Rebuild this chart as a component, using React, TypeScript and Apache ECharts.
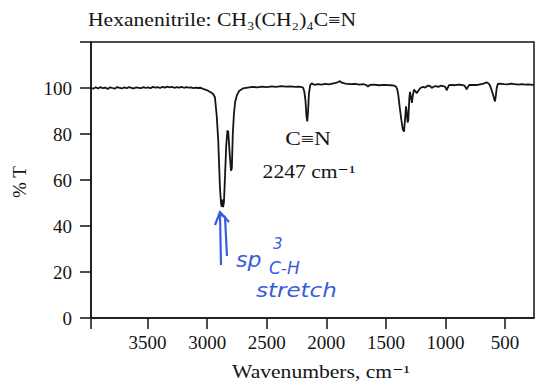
import React, { useEffect, useRef } from "react";
import * as echarts from "echarts";

// Wavenumbers (cm^-1) and transmittance (%T)
const wavenumbers = [
  3975, 3955, 3935, 3915, 3895, 3875, 3855, 3835, 3815, 3795, 3775, 3755, 3735, 3715, 3695, 3675,
  3655, 3635, 3615, 3595, 3575, 3555, 3535, 3515, 3495, 3475, 3455, 3435, 3415, 3395, 3375, 3355,
  3335, 3315, 3295, 3275, 3255, 3235, 3215, 3195, 3175, 3155, 3135, 3115, 3095, 3075, 3055, 3035,
  3015, 3000, 2985, 2965, 2950, 2935, 2920, 2907, 2893, 2884, 2878, 2872, 2866, 2859, 2850, 2840,
  2830, 2823, 2812, 2800, 2793, 2785, 2775, 2765, 2750, 2730, 2700, 2660, 2620, 2580, 2540, 2500,
  2460, 2420, 2380, 2340, 2300, 2260, 2230, 2205, 2194, 2185, 2175, 2167, 2160, 2153, 2146, 2135,
  2123, 2100, 2070, 2040, 2010, 1980, 1950, 1920, 1900, 1885, 1870, 1840, 1800, 1760, 1720, 1690,
  1665, 1650, 1635, 1600, 1560, 1520, 1490, 1457, 1430, 1415, 1405, 1396, 1385, 1370, 1358, 1348,
  1340, 1331, 1326, 1318, 1312, 1304, 1298, 1290, 1282, 1275, 1264, 1252, 1240, 1225, 1210, 1190,
  1170, 1150, 1130, 1115, 1100, 1080, 1060, 1040, 1020, 1004, 995, 990, 982, 970, 950, 920,
  890, 860, 840, 828, 822, 815, 800, 770, 740, 710, 680, 660, 645, 630, 615, 600,
  590, 584, 578, 570, 560, 540, 510, 480, 450, 420, 390, 360, 330, 300, 275, 257,
];
const transmittance = [
  100.0, 99.7, 100.3, 99.8, 100.4, 99.9, 100.2, 99.6, 100.3, 100.0, 99.7, 100.4, 100.1, 99.8, 100.3, 99.9,
  100.4, 100.0, 99.8, 100.3, 100.1, 99.9, 100.4, 100.0, 100.3, 99.9, 100.5, 100.2, 100.4, 100.0, 100.5, 100.2,
  100.6, 100.3, 100.5, 100.1, 100.4, 100.2, 100.5, 100.1, 100.4, 100.2, 100.3, 99.9, 100.2, 100.0, 100.1, 99.6,
  99.3, 99.0, 98.6, 98.0, 97.4, 96.0, 88.0, 77.0, 57.0, 50.0, 48.3, 51.5, 48.2, 50.5, 62.0, 75.0,
  81.5, 81.0, 72.0, 64.0, 65.0, 80.0, 89.0, 94.0, 97.0, 98.8, 99.8, 100.2, 100.5, 100.3, 100.6, 100.4,
  100.7, 100.5, 100.8, 100.6, 100.7, 100.5, 100.6, 100.4, 100.0, 98.5, 94.5, 88.0, 85.5, 90.0, 97.5, 101.3,
  102.0, 101.4, 101.7, 101.5, 101.8, 101.6, 101.9, 102.2, 102.6, 103.0, 102.3, 101.9, 101.7, 101.8, 101.5, 101.7,
  101.3, 100.6, 101.3, 101.5, 101.2, 101.4, 101.3, 101.2, 101.0, 100.6, 99.5, 97.0, 92.0, 86.0, 82.0, 81.0,
  86.0, 92.0, 90.0, 85.0, 86.0, 95.0, 98.3, 96.0, 93.5, 96.5, 99.3, 98.5, 97.8, 99.0, 100.0, 100.5,
  100.2, 101.0, 100.9, 100.0, 100.6, 100.8, 100.5, 101.0, 100.8, 100.6, 99.8, 99.0, 100.0, 101.2, 101.4, 101.2,
  101.5, 101.3, 101.0, 100.0, 99.4, 100.2, 101.3, 101.4, 101.3, 101.6, 101.9, 102.4, 102.2, 101.5, 99.5, 97.0,
  95.0, 94.2, 96.5, 100.0, 101.8, 101.9, 101.7, 101.6, 101.9, 101.7, 101.5, 101.7, 101.5, 101.6, 101.4, 101.5,
];

const xTickValues = [3500, 3000, 2500, 2000, 1500, 1000, 500];
const yTickValues = [0, 20, 40, 60, 80, 100];

const titleText = "Hexanenitrile: CH\u2083(CH\u2082)\u2084C\u2261N";
const xName = "Wavenumbers, cm\u207B\u00B9";
const yName = "% T";
const peakLabel = "C\u2261N";
const peakValue = "2247 cm\u207B\u00B9";

const SERIF = '"Liberation Serif", "DejaVu Serif", serif';
const INK = "#151515";
const BLUE = "#3a5ce0";

export default function App() {
  const ref = useRef<HTMLDivElement>(null);

  useEffect(() => {
    if (!ref.current) return;
    const chart = echarts.init(ref.current, undefined, { renderer: "svg" });
    const data = wavenumbers.map((w, i) => [w, transmittance[i]]);
    const xMin = 257;
    const xMax = 3975;

    chart.setOption({
      animation: false,
      backgroundColor: "#ffffff",
      grid: {
        left: 91,
        top: 42,
        width: 443,
        height: 276,
        show: true,
        borderColor: INK,
        borderWidth: 1.5,
        backgroundColor: "transparent",
      },
      xAxis: {
        type: "value",
        min: xMin,
        max: xMax,
        inverse: true,
        splitLine: { show: false },
        axisLine: { show: true, lineStyle: { color: INK, width: 1.5 } },
        axisTick: {
          show: true,
          length: 11,
          customValues: [xMax, ...xTickValues],
          lineStyle: { color: INK, width: 1.5 },
        },
        axisLabel: {
          customValues: xTickValues,
          formatter: (v: number) => String(v),
          margin: 15,
          fontFamily: SERIF,
          fontSize: 19,
          color: INK,
        },
      },
      yAxis: {
        type: "value",
        min: 0,
        max: 120,
        interval: 20,
        splitLine: { show: false },
        axisLine: { show: true, lineStyle: { color: INK, width: 1.5 } },
        axisTick: { show: true, length: 11, lineStyle: { color: INK, width: 1.5 } },
        axisLabel: {
          customValues: yTickValues,
          formatter: (v: number) => String(v),
          margin: 19,
          fontFamily: SERIF,
          fontSize: 19,
          color: INK,
        },
      },
      series: [
        {
          type: "line",
          data,
          showSymbol: false,
          symbol: "none",
          lineStyle: { color: INK, width: 1.8 },
          z: 3,
        },
      ],
      graphic: [
        {
          type: "text",
          x: 88,
          y: 20,
          scaleX: 1.2,
          style: {
            text: titleText,
            font: `18px ${SERIF}`,
            fill: INK,
            textAlign: "left",
            textVerticalAlign: "middle",
          },
        },
        {
          type: "text",
          x: 321,
          y: 372,
          scaleX: 1.2,
          style: {
            text: xName,
            font: `18px ${SERIF}`,
            fill: INK,
            textAlign: "center",
            textVerticalAlign: "middle",
          },
        },
        {
          type: "text",
          x: 19,
          y: 182,
          rotation: Math.PI / 2,
          style: {
            text: yName,
            font: `19px ${SERIF}`,
            fill: INK,
            textAlign: "center",
            textVerticalAlign: "middle",
          },
        },
        {
          type: "text",
          x: 308,
          y: 139,
          scaleX: 1.3,
          style: {
            text: peakLabel,
            font: `18px ${SERIF}`,
            fill: INK,
            textAlign: "center",
            textVerticalAlign: "middle",
          },
        },
        {
          type: "text",
          x: 309,
          y: 172,
          scaleX: 1.2,
          style: {
            text: peakValue,
            font: `18px ${SERIF}`,
            fill: INK,
            textAlign: "center",
            textVerticalAlign: "middle",
          },
        },
        {
          type: "polyline",
          shape: { points: [[221, 265], [220, 214], [225, 217], [227, 256]] },
          style: { stroke: BLUE, lineWidth: 2.2, fill: "none" },
        },
        {
          type: "polyline",
          shape: { points: [[215, 225], [220, 212], [229, 222]] },
          style: { stroke: BLUE, lineWidth: 2.2, fill: "none" },
        },
        {
          type: "text",
          x: 236,
          y: 259,
          style: {
            text: "sp",
            font: `italic 22px "DejaVu Sans", sans-serif`,
            fill: BLUE,
            textAlign: "left",
            textVerticalAlign: "middle",
          },
        },
        {
          type: "text",
          x: 273,
          y: 244,
          style: {
            text: "3",
            font: `italic 15px "DejaVu Sans", sans-serif`,
            fill: BLUE,
            textAlign: "left",
            textVerticalAlign: "middle",
          },
        },
        {
          type: "text",
          x: 269,
          y: 268,
          style: {
            text: "C-H",
            font: `italic 17px "DejaVu Sans", sans-serif`,
            fill: BLUE,
            textAlign: "left",
            textVerticalAlign: "middle",
          },
        },
        {
          type: "text",
          x: 256,
          y: 290,
          scaleX: 1.15,
          style: {
            text: "stretch",
            font: `italic 20px "DejaVu Sans", sans-serif`,
            fill: BLUE,
            textAlign: "left",
            textVerticalAlign: "middle",
          },
        },
      ],
    });

    return () => chart.dispose();
  }, []);

  return (
    <div
      ref={ref}
      style={{ width: 543, height: 383, position: "absolute", left: 0, top: 0, background: "#fff" }}
    />
  );
}
